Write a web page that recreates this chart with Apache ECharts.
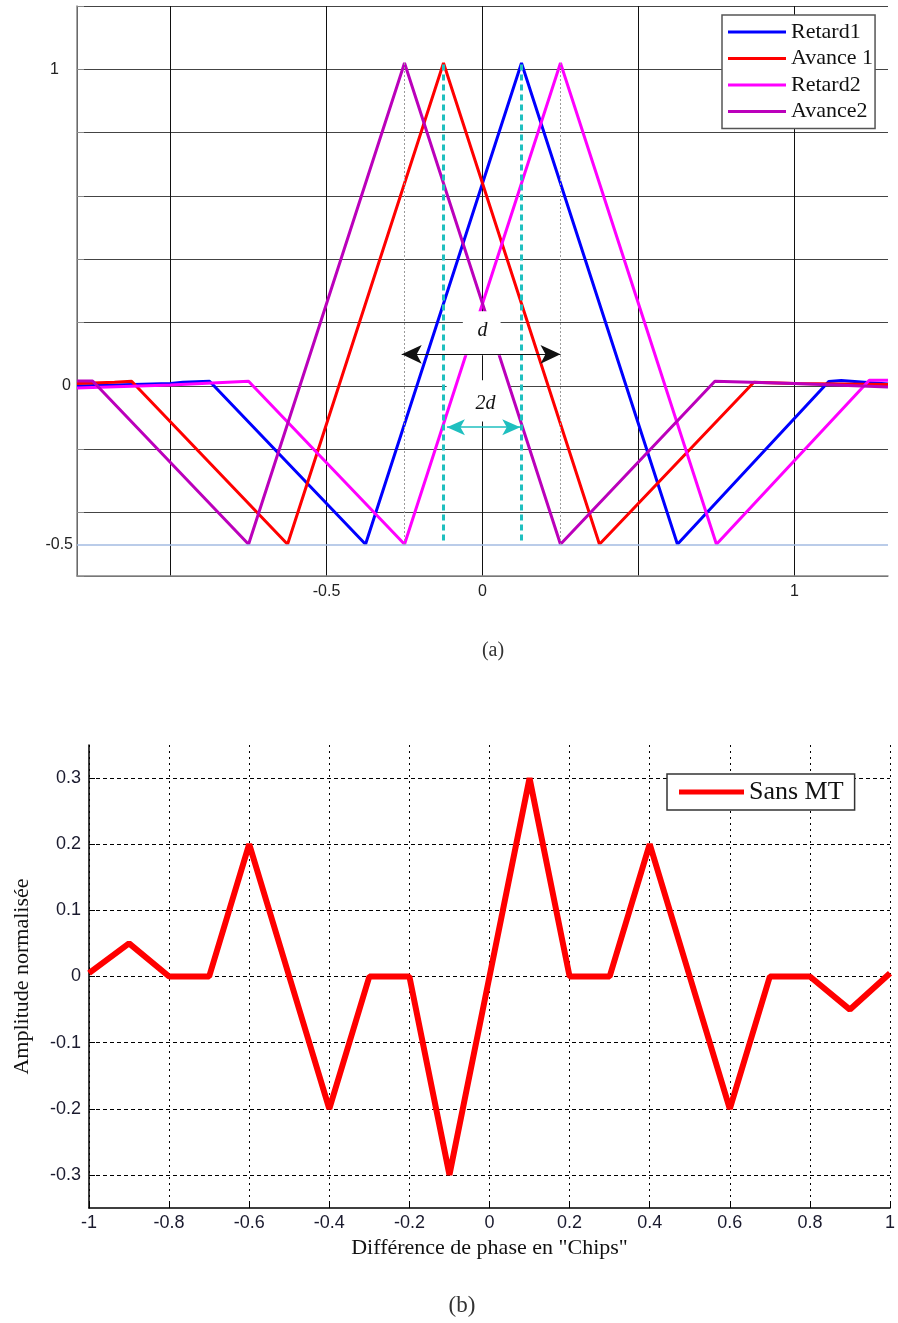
<!DOCTYPE html>
<html>
<head>
<meta charset="utf-8">
<script src="https://cdn.jsdelivr.net/npm/echarts@6/dist/echarts.min.js"></script>
<style>
  html, body { margin: 0; padding: 0; background: #fff; }
  #chart { width: 898px; height: 1323px; }
</style>
</head>
<body>
<div id="chart"></div>
<script>
// ---- (a) early / late correlation curves: [phase offset, amplitude] ----
const retard1 = [[-1.3, 0.0], [-1.0, 0.008], [-0.96, 0.012], [-0.875, 0.015], [-0.375, -0.5], [0.125, 1.02], [0.625, -0.5], [1.11, 0.014], [1.15, 0.017], [1.3, 0.006]];
const avance1 = [[-1.3, 0.008], [-1.18, 0.012], [-1.125, 0.015], [-0.625, -0.5], [-0.125, 1.02], [0.375, -0.5], [0.87, 0.012], [1.0, 0.008], [1.3, 0.005]];
const retard2 = [[-1.3, -0.006], [-1.0, 0.003], [-0.75, 0.015], [-0.25, -0.5], [0.25, 1.02], [0.75, -0.5], [1.24, 0.018], [1.3, 0.018]];
const avance2 = [[-1.3, 0.016], [-1.25, 0.016], [-0.75, -0.5], [-0.25, 1.02], [0.25, -0.5], [0.745, 0.015], [1.0, 0.008], [1.3, -0.003]];
const namesA = ['Retard1', 'Avance 1', 'Retard2', 'Avance2'];
const xTickLabelsA = [-0.5, 0, 1];
const yTickLabelsA = [1, 0];
const floorLevelA = -0.5;

// ---- (b) discriminator output without multipath ----
const phaseB = [-1, -0.9, -0.8, -0.7, -0.6, -0.5, -0.4, -0.3, -0.2, -0.1, 0, 0.1, 0.2, 0.3, 0.4, 0.5, 0.6, 0.7, 0.8, 0.9, 1];
const amplitudeB = [0.005, 0.05, 0, 0, 0.2, 0, -0.2, 0, 0, -0.3, 0, 0.3, 0, 0, 0.2, 0, -0.2, 0, 0, -0.05, 0.005];
const nameB = 'Sans MT';

const colorsA = ['#0000ff', '#ff0000', '#ff00ff', '#bb00bb'];
const cyan = '#1fbfbf';
const sans = 'Liberation Sans';
const serif = 'Liberation Serif';

const near = (v, list) => list.some(t => Math.abs(t - v) < 1e-6);

const chart = echarts.init(document.getElementById('chart'), null, { renderer: 'canvas' });

const seriesA = [retard1, avance1, retard2, avance2].map((pts, i) => ({
  name: namesA[i],
  type: 'line',
  xAxisIndex: 0, yAxisIndex: 0,
  data: pts,
  symbol: 'none',
  z: 2,
  lineStyle: { color: colorsA[i], width: 3 },
  itemStyle: { color: colorsA[i] }
}));

const pairsB = phaseB.map((x, i) => [x, amplitudeB[i]]);

const option = {
  animation: false,
  backgroundColor: '#fff',
  grid: [
    { left: 77, top: 6, width: 811, height: 570 },
    { left: 89, top: 745, width: 805, height: 463 }
  ],
  xAxis: [
    {
      gridIndex: 0, type: 'value', min: -1.3, max: 1.3,
      axisLine: { show: true, onZero: false, lineStyle: { color: '#888', width: 1.5 } },
      axisTick: { show: false },
      splitLine: { show: true, showMaxLine: false, lineStyle: { color: '#111', width: 1 } },
      axisLabel: {
        margin: 8, fontFamily: sans, fontSize: 16, color: '#222',
        formatter: v => near(v, xTickLabelsA) ? String(v) : ''
      }
    },
    {
      gridIndex: 1, type: 'value', min: -1, max: 1, interval: 0.2,
      axisLine: { show: true, onZero: false, lineStyle: { color: '#000', width: 1.5 } },
      axisTick: { show: true, inside: true, length: 7, lineStyle: { color: '#000' } },
      splitLine: { show: true, lineStyle: { color: '#000', width: 1, type: [2, 4] } },
      axisLabel: { margin: 6, fontFamily: sans, fontSize: 18, color: '#1a1a2e' },
      name: 'Différence de phase en "Chips"',
      nameLocation: 'middle', nameGap: 29,
      nameTextStyle: { fontFamily: serif, fontSize: 22, color: '#111' }
    }
  ],
  yAxis: [
    {
      gridIndex: 0, type: 'value', min: -0.6, max: 1.2, interval: 0.2,
      axisLine: { show: true, onZero: false, lineStyle: { color: '#888', width: 1.5 } },
      axisTick: { show: true, inside: true, length: 7, lineStyle: { color: '#888' } },
      splitLine: { show: true, lineStyle: { color: '#444', width: 1 } },
      axisLabel: {
        margin: 6, fontFamily: sans, fontSize: 16, color: '#222',
        formatter: v => {
          if (!near(v, yTickLabelsA)) return '';
          return Math.abs(v - 1) < 1e-6 ? '{one|1}' : String(Math.round(v));
        },
        rich: { one: { fontFamily: sans, fontSize: 16, color: '#222', padding: [0, 12, 0, 0] } }
      }
    },
    {
      gridIndex: 1, type: 'value', min: -0.35, max: 0.35,
      axisLine: { show: true, onZero: false, lineStyle: { color: '#000', width: 1.5 } },
      axisTick: { show: true, inside: true, length: 6, lineStyle: { color: '#000' } },
      splitLine: { show: true, showMinLine: false, showMaxLine: false, lineStyle: { color: '#000', width: 1, type: [4, 3] } },
      axisLabel: { margin: 8, fontFamily: sans, fontSize: 18, color: '#1a1a2e', showMinLabel: false, showMaxLabel: false },
      name: 'Amplitude normalisée',
      nameLocation: 'middle', nameGap: 56,
      nameTextStyle: { fontFamily: serif, fontSize: 22, color: '#111' }
    }
  ],
  legend: [
    {
      data: namesA,
      orient: 'vertical',
      left: 722, top: 15,
      padding: [6, 2, 6, 6],
      itemWidth: 58, itemHeight: 3, itemGap: 4.5,
      icon: 'rect',
      backgroundColor: '#fff',
      borderColor: '#555', borderWidth: 1.5, borderRadius: 0,
      textStyle: { fontFamily: serif, fontSize: 22, color: '#111' },
      selectedMode: false
    },
    {
      data: [nameB],
      orient: 'vertical',
      left: 667, top: 774,
      padding: [5, 11, 5, 12],
      itemWidth: 65, itemHeight: 5,
      icon: 'rect',
      backgroundColor: '#fff',
      borderColor: '#333', borderWidth: 1.5, borderRadius: 0,
      textStyle: { fontFamily: serif, fontSize: 26, color: '#111' },
      selectedMode: false
    }
  ],
  graphic: [
    { id: 'capA', type: 'text', x: 493, y: 651, z: 10,
      style: { text: '(a)', font: '20px "Liberation Serif"', fill: '#333', align: 'center', verticalAlign: 'middle' } },
    { id: 'capB', type: 'text', x: 462, y: 1306, z: 10,
      style: { text: '(b)', font: '23px "Liberation Serif"', fill: '#333', align: 'center', verticalAlign: 'middle' } }
  ],
  series: [
    // guide lines beneath the curves: floor level and peak markers
    {
      type: 'line', xAxisIndex: 0, yAxisIndex: 0, data: [], z: 1, silent: true,
      markLine: {
        silent: true, symbol: 'none', animation: false,
        lineStyle: { color: '#9a9a9a', width: 1, type: [2, 2] },
        label: { show: false },
        emphasis: { disabled: true },
        data: [
          {
            yAxis: floorLevelA,
            lineStyle: { color: '#a3bbe2', width: 1.5, type: 'solid' },
            label: { show: true, position: 'start', distance: 4, formatter: String(floorLevelA), fontFamily: sans, fontSize: 16, color: '#222' }
          },
          [{ coord: [-0.25, 1.02] }, { coord: [-0.25, -0.5] }],
          [{ coord: [0.25, 1.02] }, { coord: [0.25, -0.5] }]
        ]
      }
    },
    ...seriesA,
    // early/late spacing markers drawn over the curves
    {
      type: 'line', xAxisIndex: 0, yAxisIndex: 0, data: [], z: 3, silent: true,
      markLine: {
        silent: true, symbol: 'none', animation: false,
        lineStyle: { color: cyan, width: 3, type: [6, 4] },
        label: { show: false },
        emphasis: { disabled: true },
        data: [
          [{ coord: [-0.125, 1.015] }, { coord: [-0.125, -0.5] }],
          [{ coord: [0.125, 1.015] }, { coord: [0.125, -0.5] }],
          [
            { coord: [-0.114, -0.13], symbol: 'arrow', symbolSize: [12, 18], lineStyle: { color: cyan, width: 1.5, type: 'solid' } },
            { coord: [0.121, -0.13], symbol: 'arrow', symbolSize: [12, 18] }
          ],
          [
            { coord: [-0.259, 0.1], symbol: 'arrow', symbolSize: [14, 20], lineStyle: { color: '#111', width: 1, type: 'solid' } },
            { coord: [0.25, 0.1], symbol: 'arrow', symbolSize: [14, 20] }
          ]
        ]
      }
    },
    // spacing labels
    {
      type: 'line', xAxisIndex: 0, yAxisIndex: 0, data: [], z: 6, silent: true,
      markPoint: {
        silent: true, symbol: 'circle', symbolSize: 1,
        itemStyle: { color: 'rgba(0,0,0,0)' },
        emphasis: { disabled: true },
        label: { show: true, position: 'inside', fontFamily: serif, fontStyle: 'italic', fontSize: 20, color: '#111' },
        data: [
          { coord: [0, 0.173], label: { formatter: 'd' } },
          { coord: [0.01, -0.055], label: { formatter: '2d' } }
        ]
      }
    },
    {
      name: nameB,
      type: 'line',
      xAxisIndex: 1, yAxisIndex: 1,
      data: pairsB,
      symbol: 'none',
      z: 2,
      lineStyle: { color: '#ff0000', width: 6 },
      itemStyle: { color: '#ff0000' }
    }
  ]
};

chart.setOption(option);

// White label patches, placed through the axis scales of panel (a):
// the "2d" patch sits above the grid lines but under the curves,
// the "d" patch sits over the curves.
function patch(id, from, to, z) {
  const p0 = chart.convertToPixel({ gridIndex: 0 }, from);
  const p1 = chart.convertToPixel({ gridIndex: 0 }, to);
  return {
    id, type: 'rect', z, silent: true,
    shape: {
      x: Math.min(p0[0], p1[0]), y: Math.min(p0[1], p1[1]),
      width: Math.abs(p1[0] - p0[0]), height: Math.abs(p1[1] - p0[1])
    },
    style: { fill: '#fff' }
  };
}
chart.setOption({
  graphic: [
    patch('patch2d', [-0.115, 0.018], [0.083, -0.112], 1),
    patch('patchD', [-0.063, 0.236], [0.058, 0.097], 5)
  ]
});
</script>
</body>
</html>
